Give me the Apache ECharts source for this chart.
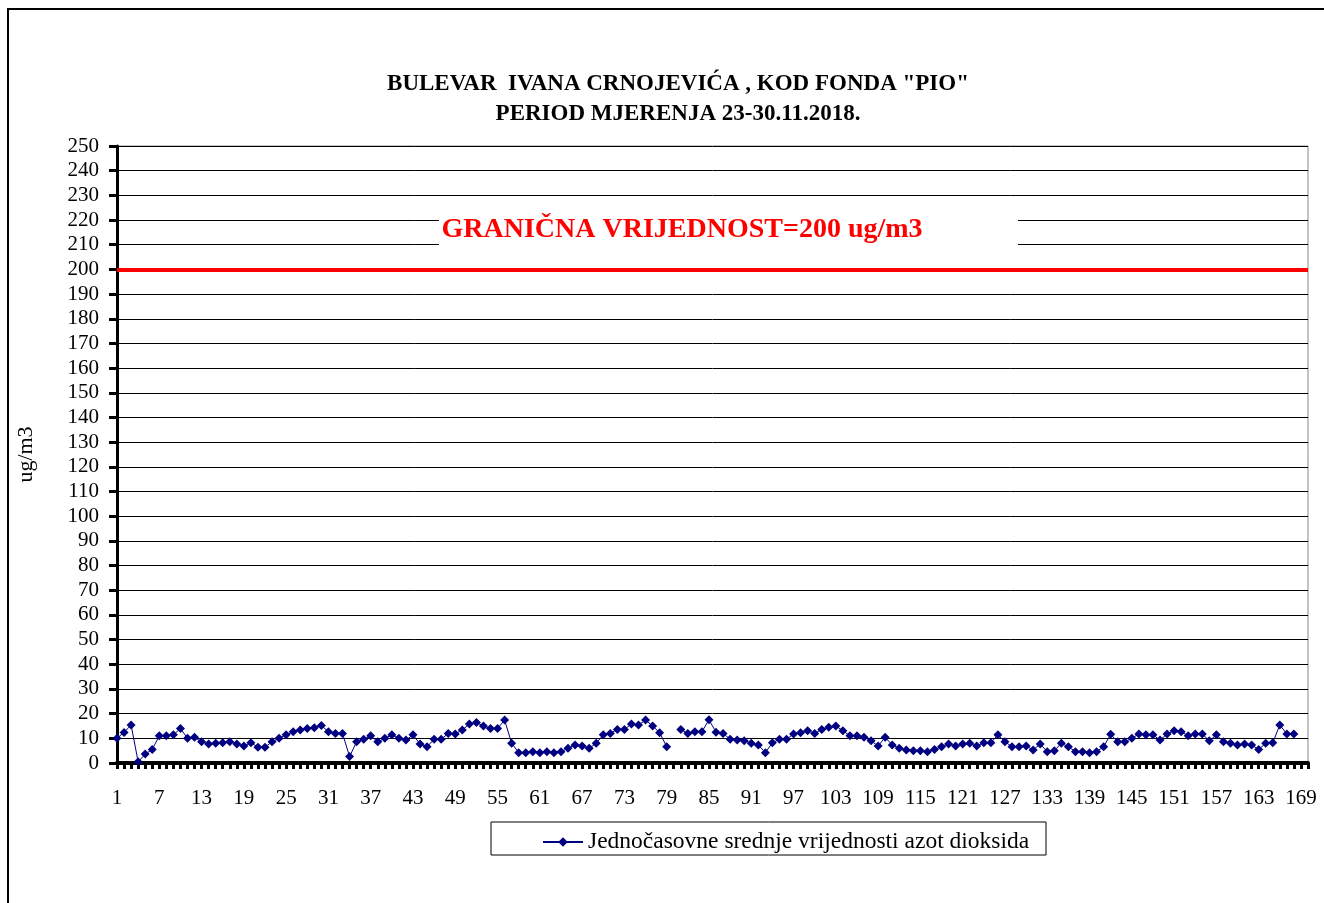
<!DOCTYPE html>
<html>
<head>
<meta charset="utf-8">
<style>
  html, body { margin: 0; padding: 0; background: #fff; }
  #myChart { width: 1324px; height: 903px; }
</style>
<script src="https://cdn.jsdelivr.net/npm/echarts@6/dist/echarts.min.js"></script>
</head>
<body>
<div id="myChart"></div>
<script>
// sati mjerenja 1..170 (oznake svakih 6)
const hours = [];
for (let h = 1; h <= 170; h++) hours.push(String(h));

// jednočasovne srednje vrijednosti NO2 (ug/m3), sat 80 nedostaje
const no2Values = [
  10, 12.4, 15.4, 0.5, 3.6, 5.5, 11, 11, 11.4, 14,
  10, 10.4, 8.6, 7.7, 8, 8.2, 8.6, 7.7, 6.9, 8.2,
  6.4, 6.4, 8.6, 10, 11.4, 12.7, 13.4, 14, 14.3, 15.2,
  12.7, 12, 12, 2.6, 8.6, 9.6, 11, 8.6, 10, 11.4,
  10, 9.3, 11.4, 7.7, 6.6, 9.6, 9.6, 12, 11.8, 13.4,
  15.8, 16.4, 15, 14, 14, 17.4, 8, 4.2, 4.2, 4.6,
  4.2, 4.6, 4.2, 4.6, 6, 7.3, 6.9, 6, 8, 11.4,
  12, 13.6, 13.6, 15.8, 15.4, 17.4, 15, 12.3, 6.6, null,
  13.6, 12, 12.7, 12.7, 17.5, 12.5, 12, 9.6, 9.3, 9,
  8, 7.3, 4.2, 8.2, 9.6, 9.6, 11.8, 12.3, 13.1, 12,
  13.6, 14.5, 15, 13.1, 11, 11, 10.4, 9, 6.9, 10.4,
  7.3, 6, 5.3, 5, 5, 4.6, 5.5, 6.6, 7.7, 6.9,
  7.7, 8, 6.9, 8.2, 8.2, 11.4, 8.6, 6.6, 6.6, 6.9,
  5.3, 7.7, 4.6, 5, 8, 6.6, 4.6, 4.6, 4.2, 4.6,
  6.6, 11.6, 8.6, 8.6, 10, 11.8, 11.4, 11.4, 9.3, 11.8,
  13.1, 12.7, 11, 11.8, 11.8, 9, 11.4, 8.6, 8, 7.3,
  7.7, 7.3, 5.5, 8, 8.2, 15.4, 11.8, 11.8
];

const yTicks = { min: 0, max: 250, interval: 10 };
const limitValue = 200;

const serif = "'Liberation Serif', 'DejaVu Serif', serif";

const chart = echarts.init(document.getElementById("myChart"));
chart.setOption({
  animation: false,
  backgroundColor: "#fff",
  title: {
    text: 'BULEVAR  IVANA CRNOJEVIĆA , KOD FONDA "PIO"\nPERIOD MJERENJA 23-30.11.2018.',
    left: 673,
    top: 64,
    textAlign: "center",
    textStyle: {
      fontFamily: serif,
      fontSize: 23,
      fontWeight: "bold",
      color: "#000",
      lineHeight: 30,
    },
  },
  grid: {
    left: 117,
    right: 16,
    top: 146,
    bottom: 140,
    show: true,
    borderColor: "#888",
    borderWidth: 1,
    backgroundColor: "transparent",
  },
  legend: {
    left: 537,
    top: 825,
    itemWidth: 40,
    itemHeight: 12,
    itemGap: 0,
    textStyle: { fontFamily: serif, fontSize: 23.5, color: "#000" },
    data: ["Jednočasovne srednje vrijednosti azot dioksida"],
  },
  xAxis: {
    type: "category",
    data: hours,
    boundaryGap: false,
    axisLine: { lineStyle: { color: "#000", width: 4 } },
    axisTick: {
      interval: 0,
      length: 6,
      lineStyle: { color: "#000", width: 3 },
    },
    axisLabel: {
      interval: 5,
      margin: 25,
      fontFamily: serif,
      fontSize: 21,
      color: "#000",
    },
    splitLine: { show: false },
  },
  yAxis: {
    type: "value",
    min: yTicks.min,
    max: yTicks.max,
    interval: yTicks.interval,
    name: "ug/m3",
    nameLocation: "middle",
    nameGap: 80,
    nameRotate: 90,
    nameTextStyle: { fontFamily: serif, fontSize: 22, color: "#000" },
    axisLine: { show: true, lineStyle: { color: "#000", width: 3 } },
    axisTick: { show: true, length: 8, lineStyle: { color: "#000", width: 3 } },
    axisLabel: {
      margin: 18,
      fontFamily: serif,
      fontSize: 21,
      color: "#000",
    },
    splitLine: { show: true, lineStyle: { color: "#000", width: 1 } },
  },
  series: [
    {
      name: "Jednočasovne srednje vrijednosti azot dioksida",
      type: "line",
      data: no2Values,
      connectNulls: false,
      symbol: "diamond",
      symbolSize: 9,
      showSymbol: true,
      showAllSymbol: true,
      itemStyle: { color: "#000080" },
      lineStyle: { color: "#000080", width: 1 },
      markLine: {
        silent: true,
        symbol: "none",
        label: { show: false },
        lineStyle: { color: "#ff0000", width: 4, type: "solid" },
        data: [{ yAxis: limitValue }],
      },
      z: 3,
    },
  ],
  graphic: [
    {
      type: "rect",
      shape: { x: 8, y: 9, width: 1340, height: 920 },
      style: { fill: "none", stroke: "#000", lineWidth: 2 },
      silent: true,
    },
    {
      type: "rect",
      shape: { x: 439, y: 202, width: 579, height: 44 },
      style: { fill: "#fff" },
      z: 10,
      silent: true,
    },
    {
      type: "text",
      x: 682,
      y: 230,
      z: 11,
      style: {
        text: "GRANIČNA VRIJEDNOST=200 ug/m3",
        fill: "#ff0000",
        font: "bold 28px " + serif,
        align: "center",
        verticalAlign: "middle",
      },
    },
    {
      type: "rect",
      shape: { x: 491, y: 822, width: 555, height: 33 },
      style: { fill: "none", stroke: "#000", lineWidth: 1 },
      silent: true,
    },
  ],
});
</script>
</body>
</html>
